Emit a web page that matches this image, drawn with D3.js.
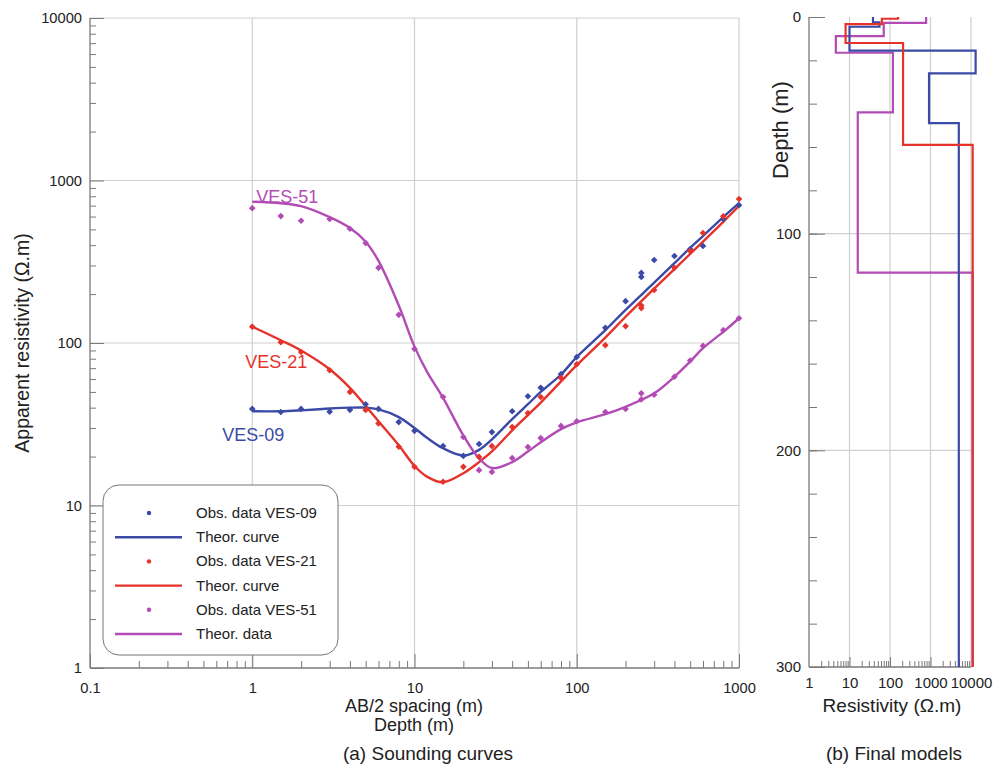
<!DOCTYPE html>
<html><head><meta charset="utf-8">
<script src="https://cdn.jsdelivr.net/npm/d3@7"></script>
<style>
body{margin:0;background:#fff;}
svg{display:block;font-family:"Liberation Sans",Arial,Helvetica,sans-serif;}
</style></head>
<body>
<svg id="chart" width="995" height="771"></svg>
<script>
// ---------- DATA ----------
const obsAB2 = [1,1.5,2,3,4,5,6,8,10,15,20,25,30,40,50,60,80,100,150,200,250,250,300,400,500,600,800,1000];
const ves09Obs = [39.3,37.6,39.3,37.8,38.8,42,39.3,32.6,28.8,23.2,20.2,23.9,28.3,38,47,53,64.5,82,124,181,270,255,324,343,378,395,580,705];
const ves21Obs = [126,101,88,68,50,38.7,32,23,17.3,14,17.3,19.9,23.2,30.4,37,46.5,61,74,97,127,164,170,212,290,368,475,602,770];
const ves51Obs = [676,604,565,580,505,412,290,149,92,46.5,26.4,16.5,16.1,19.6,22.9,26,30.9,33,37.6,39.3,49,45,48,62,78,96,120,142];

const theorAB2 = [1,1.5,2,3,4,5,6,8,10,12,15,20,25,30,40,50,60,80,100,150,200,300,400,500,600,800,1000];
const ves09Theor = [38,38,38.5,39.5,40,40,39,35,30,26,22.5,20.3,22,25.5,34,42,50,64,82,120,160,235,310,385,455,595,725];
const ves21Theor = [126,104,90,69,53,41,33,23.5,17.5,15,13.9,15.8,18.5,21.5,29,36,43,58,73,108,145,216,285,353,421,557,697];
const ves51Theor = [740,725,695,595,510,420,320,170,95,66,46,27,19.5,17,18.5,21.5,24.5,29.5,32.5,36.5,40.5,49,62,77,93,117,142];

const xTicksLeft = [0.1,1,10,100,1000];
const yTicksLeft = [1,10,100,1000,10000];

// layered models (resistivity, top depth of each layer); last layer to 300 m
const ves09ModelRes = [38,55,10,13000,920,5000];
const ves09ModelTop = [0,2.5,4.5,15.5,26,49];
const ves21ModelRes = [158,63,8,210,11000];
const ves21ModelTop = [0,0.8,3.3,12,59];
const ves51ModelRes = [780,70,4.6,118,16,11000];
const ves51ModelTop = [0,2.7,8.8,16.5,44,118];
const modelMaxDepth = 300;

const xTicksRight = [1,10,100,1000,10000];
const yTicksRight = [0,100,200,300];

const seriesNames = ["VES-09","VES-21","VES-51"];
const legendLabels = ["Obs. data VES-09","Theor. curve","Obs. data VES-21","Theor. curve","Obs. data VES-51","Theor. data"];
const colors = {"VES-09":"#3a4aa6","VES-21":"#e5332b","VES-51":"#b24cb4"};

// ---------- SETUP ----------
const svg = d3.select("#chart");
const gridC = "#cfcfcf", axisC = "#7a7a7a", textC = "#222";
const FONT = "Liberation Sans, Arial, sans-serif";

// Left plot scales
const lx = d3.scaleLog().domain([0.1,1000]).range([90,739]);
const ly = d3.scaleLog().domain([1,10000]).range([668,18]);

const L = svg.append("g");
L.selectAll(".vg").data([1,10,100,1000]).enter().append("line")
  .attr("x1",d=>lx(d)).attr("x2",d=>lx(d)).attr("y1",ly(10000)).attr("y2",ly(1))
  .attr("stroke",gridC).attr("stroke-width",1.2);
L.selectAll(".hg").data([10,100,1000,10000]).enter().append("line")
  .attr("x1",lx(0.1)).attr("x2",lx(1000)).attr("y1",d=>ly(d)).attr("y2",d=>ly(d))
  .attr("stroke",gridC).attr("stroke-width",1.2);

function minorTicks(lo,hi){
  const out=[];
  for(let p=lo;p<hi;p*=10){for(let k=2;k<=9;k++)out.push(p*k);}
  return out;
}
const lyAxisMinor = d3.axisLeft(ly).tickValues(minorTicks(1,10000)).tickSize(-6).tickFormat("");
const lyAxisMajor = d3.axisLeft(ly).tickValues(yTicksLeft).tickSize(-14).tickPadding(22).tickFormat(d3.format("d"));
const gLyMinor = L.append("g").attr("transform",`translate(${lx(0.1)},0)`).call(lyAxisMinor);
const gLyMajor = L.append("g").attr("transform",`translate(${lx(0.1)},0)`).call(lyAxisMajor);
const lxAxisMinor = d3.axisBottom(lx).tickValues(minorTicks(0.1,1000)).tickSize(-7).tickFormat("");
const lxAxisMajor = d3.axisBottom(lx).tickValues(xTicksLeft).tickSize(-14).tickPadding(24).tickFormat(d=>String(d));
const gLxMinor = L.append("g").attr("transform",`translate(0,${ly(1)})`).call(lxAxisMinor);
const gLxMajor = L.append("g").attr("transform",`translate(0,${ly(1)})`).call(lxAxisMajor);
[gLyMinor,gLyMajor,gLxMinor,gLxMajor].forEach(g=>{
  g.selectAll("path").attr("stroke",axisC).attr("stroke-width",1.3);
  g.selectAll("line").attr("stroke",axisC).attr("stroke-width",1);
  g.selectAll("text").attr("fill",textC).attr("font-size",14.7).attr("font-family",FONT);
});
gLxMajor.selectAll("text").attr("dy","0.1em");
gLyMajor.selectAll("text").attr("dx","14px");
gLyMajor.selectAll("path").remove();
gLxMajor.selectAll("path").remove();
gLyMinor.select("path").attr("d",`M0,${ly(10000)}V${ly(1)}`);
gLxMinor.select("path").attr("d",`M${lx(0.1)},0H${lx(1000)}`);

// theoretical curves
const lineL = d3.line().x(d=>lx(d[0])).y(d=>ly(d[1])).curve(d3.curveCatmullRom.alpha(0.5));
const theor = {"VES-09":ves09Theor,"VES-21":ves21Theor,"VES-51":ves51Theor};
const obs = {"VES-09":ves09Obs,"VES-21":ves21Obs,"VES-51":ves51Obs};
seriesNames.forEach(n=>{
  L.append("path").datum(theorAB2.map((x,i)=>[x,theor[n][i]]))
    .attr("d",lineL).attr("fill","none").attr("stroke",colors[n]).attr("stroke-width",2.4);
});
const marker = d3.symbol().type(d3.symbolSquare).size(22);
seriesNames.forEach(n=>{
  L.selectAll(null).data(obsAB2.map((x,i)=>[x,obs[n][i]])).enter().append("path")
    .attr("d",marker).attr("transform",d=>`translate(${lx(d[0])},${ly(d[1])}) rotate(45)`)
    .attr("fill",colors[n]);
});

// series labels
const labelPos = {"VES-51":[1.06,727],"VES-21":[0.906,70],"VES-09":[0.654,25]};
seriesNames.forEach(n=>{
  L.append("text").attr("x",lx(labelPos[n][0])).attr("y",ly(labelPos[n][1]))
    .attr("fill",colors[n]).attr("font-size",18).text(n);
});

// legend
const lg = L.append("g");
lg.append("rect").attr("x",103).attr("y",485).attr("width",235).attr("height",170).attr("rx",16)
  .attr("fill","#fff").attr("stroke","#777").attr("stroke-width",1);
legendLabels.forEach((t,i)=>{
  const y = 513 + i*24.2;
  const n = seriesNames[Math.floor(i/2)];
  if(i%2===0){
    lg.append("circle").attr("cx",149).attr("cy",y).attr("r",2.2).attr("fill",colors[n]);
  } else {
    lg.append("line").attr("x1",115).attr("x2",182).attr("y1",y).attr("y2",y)
      .attr("stroke",colors[n]).attr("stroke-width",2.4);
  }
  lg.append("text").attr("x",196).attr("y",y+5).attr("font-size",15).attr("fill",textC).text(t);
});

// left titles
L.append("text").attr("transform",`translate(29,${(ly(1)+ly(10000))/2}) rotate(-90)`)
  .attr("text-anchor","middle").attr("font-size",19.5).attr("fill",textC).text("Apparent resistivity (Ω.m)");
L.append("text").attr("x",414).attr("y",712).attr("text-anchor","middle").attr("font-size",18).attr("fill",textC).text("AB/2 spacing (m)");
L.append("text").attr("x",414).attr("y",731).attr("text-anchor","middle").attr("font-size",18).attr("fill",textC).text("Depth (m)");
L.append("text").attr("x",428).attr("y",760).attr("text-anchor","middle").attr("font-size",19).attr("fill",textC).text("(a) Sounding curves");

// ---------- RIGHT PLOT ----------
const rx = d3.scaleLog().domain([1,10000]).range([809,971]);
const ry = d3.scaleLinear().domain([0,300]).range([17,667]);
const R = svg.append("g");
R.selectAll(".vg").data([10,100,1000,10000]).enter().append("line")
  .attr("x1",d=>rx(d)).attr("x2",d=>rx(d)).attr("y1",ry(0)).attr("y2",ry(300))
  .attr("stroke",gridC).attr("stroke-width",1.2);
R.selectAll(".hg").data([100,200]).enter().append("line")
  .attr("x1",rx(1)).attr("x2",rx(10000)).attr("y1",d=>ry(d)).attr("y2",d=>ry(d))
  .attr("stroke",gridC).attr("stroke-width",1.2);

const ryMinor = d3.axisLeft(ry).tickValues(d3.range(0,301,20)).tickSize(-8).tickFormat("");
const ryMajor = d3.axisLeft(ry).tickValues(yTicksRight).tickSize(-16).tickPadding(20).tickFormat(d3.format("d"));
const rxMinor = d3.axisBottom(rx).tickValues(minorTicks(1,10000)).tickSize(-6).tickFormat("");
const rxMajor = d3.axisBottom(rx).tickValues(xTicksRight).tickSize(-10).tickPadding(20).tickFormat(d=>String(d));
const gRy1 = R.append("g").attr("transform",`translate(${rx(1)},0)`).call(ryMinor);
const gRy2 = R.append("g").attr("transform",`translate(${rx(1)},0)`).call(ryMajor);
const gRx1 = R.append("g").attr("transform",`translate(0,${ry(300)})`).call(rxMinor);
const gRx2 = R.append("g").attr("transform",`translate(0,${ry(300)})`).call(rxMajor);
[gRy1,gRy2,gRx1,gRx2].forEach(g=>{
  g.selectAll("path").attr("stroke",axisC).attr("stroke-width",1.3);
  g.selectAll("line").attr("stroke",axisC).attr("stroke-width",1);
  g.selectAll("text").attr("fill",textC).attr("font-size",15).attr("font-family",FONT);
});
gRy2.selectAll("path").remove(); gRx2.selectAll("path").remove();
gRy2.selectAll("text").attr("dx","12px");
gRx2.selectAll("text").attr("dy","0.05em");
gRx2.selectAll(".tick").filter(d=>d===1||d===10000).select("line").remove();
gRy1.select("path").attr("d",`M0,${ry(0)}V${ry(300)}`);
gRx1.select("path").attr("d",`M${rx(1)},0H${rx(10000)}`);

function modelVerts(res,top){
  const v=[];
  res.forEach((r,i)=>{
    const bot = i<res.length-1 ? top[i+1] : modelMaxDepth;
    v.push([r,top[i]]); v.push([r,bot]);
  });
  return v;
}
const lineR = d3.line().x(d=>rx(d[0])).y(d=>ry(d[1]));
const models = [
  ["VES-51",ves51ModelRes,ves51ModelTop],
  ["VES-09",ves09ModelRes,ves09ModelTop],
  ["VES-21",ves21ModelRes,ves21ModelTop]
];
models.forEach(([n,res,top])=>{
  R.append("path").datum(modelVerts(res,top)).attr("d",lineR)
    .attr("fill","none").attr("stroke",colors[n]).attr("stroke-width",2.2);
});

R.append("text").attr("transform",`translate(788,130) rotate(-90)`)
  .attr("text-anchor","middle").attr("font-size",22).attr("fill",textC).text("Depth (m)");
R.append("text").attr("x",892).attr("y",712).attr("text-anchor","middle").attr("font-size",19).attr("fill",textC).text("Resistivity (Ω.m)");
R.append("text").attr("x",894).attr("y",760).attr("text-anchor","middle").attr("font-size",19).attr("fill",textC).text("(b) Final models");
</script>
</body></html>
